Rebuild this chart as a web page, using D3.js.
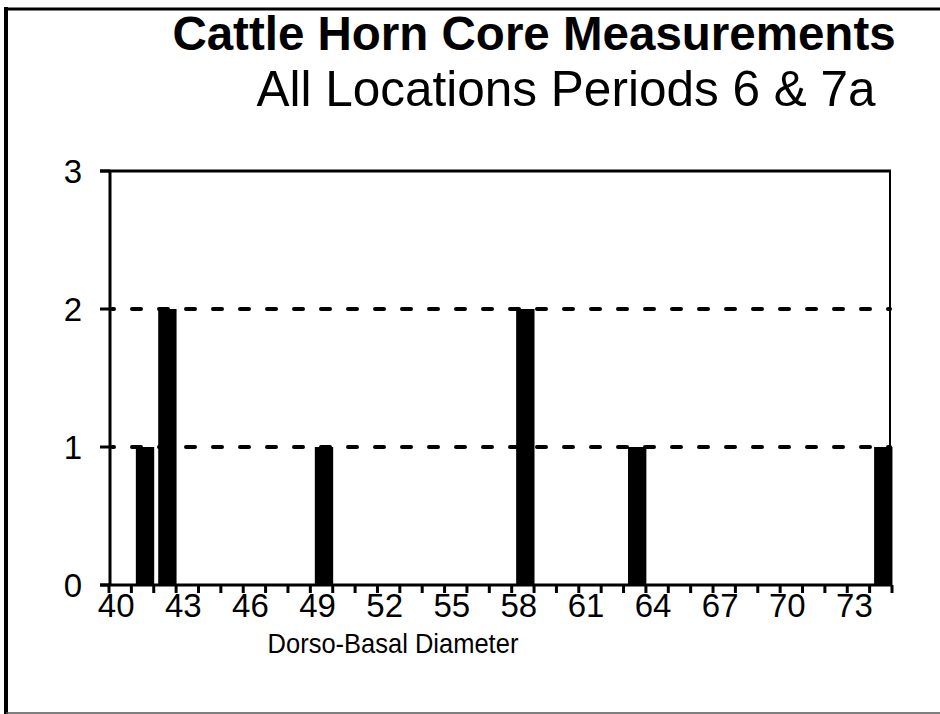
<!DOCTYPE html>
<html>
<head>
<meta charset="utf-8">
<script src="https://cdn.jsdelivr.net/npm/d3@7"></script>
<style>
  body { margin: 0; background: #fff; }
  svg { display: block; font-family: "Liberation Sans", Arial, Helvetica, sans-serif; }
</style>
</head>
<body>
<div id="chart"></div>
<script>
var width = 940,
    height = 714

// diameter classes on the x axis (mm)
var categories = [40, 41, 42, 43, 44, 45, 46, 47, 48, 49, 50, 51, 52, 53, 54, 55, 56, 57,
                  58, 59, 60, 61, 62, 63, 64, 65, 66, 67, 68, 69, 70, 71, 72, 73, 74]
var tickLabels = [40, 43, 46, 49, 52, 55, 58, 61, 64, 67, 70, 73]
// measured horn cores
var diameters = [41, 42, 49, 58, 63, 74]
var counts = [1, 2, 1, 2, 1, 1]
var yTicks = [0, 1, 2, 3]

var svg = d3.select('#chart')
  .append('svg')
  .attr('width', width)
  .attr('height', height)

svg.append('rect').attr('width', width).attr('height', height).attr('fill', '#fff')

// outer frame
svg.append('line').attr('x1', 6).attr('x2', 6).attr('y1', 7).attr('y2', height)
   .attr('stroke', '#000').attr('stroke-width', 4)
svg.append('line').attr('x1', 4).attr('x2', width).attr('y1', 9).attr('y2', 9)
   .attr('stroke', '#000').attr('stroke-width', 3)
svg.append('line').attr('x1', 6).attr('x2', width).attr('y1', 713).attr('y2', 713)
   .attr('stroke', '#555').attr('stroke-width', 1.5)

var x = d3.scaleBand().domain(categories).range([109, 892]).padding(0)
var y = d3.scaleLinear().domain([0, 3]).range([585, 171])
var bw = x.bandwidth()

// dashed grid lines
svg.selectAll('.grid')
  .data([1, 2])
  .enter().append('line')
  .attr('class', 'grid')
  .attr('x1', 112).attr('x2', 890)
  .attr('y1', d => y(d)).attr('y2', d => y(d))
  .attr('stroke', '#000')
  .attr('stroke-width', 4)
  .attr('stroke-linecap', 'round')
  .attr('stroke-dasharray', '9,18')
  .attr('stroke-dashoffset', -20)

// bars
svg.selectAll('.bar')
  .data(diameters)
  .enter().append('rect')
  .attr('class', 'bar')
  .attr('x', d => x(d) + bw * 0.2)
  .attr('width', bw * 0.82)
  .attr('y', (d, i) => y(counts[i]))
  .attr('height', (d, i) => y(0) - y(counts[i]))
  .attr('fill', '#000')

// frame of plot
svg.append('line').attr('x1', 100).attr('x2', 891).attr('y1', y(3)).attr('y2', y(3))
   .attr('stroke', '#000').attr('stroke-width', 3)
svg.append('line').attr('x1', 890).attr('x2', 890).attr('y1', y(3)).attr('y2', y(0))
   .attr('stroke', '#000').attr('stroke-width', 2)
svg.append('line').attr('x1', 110).attr('x2', 110).attr('y1', y(3)).attr('y2', y(0))
   .attr('stroke', '#000').attr('stroke-width', 3)
svg.append('line').attr('x1', 100).attr('x2', 892).attr('y1', y(0)).attr('y2', y(0))
   .attr('stroke', '#000').attr('stroke-width', 3)

// y ticks
svg.selectAll('.ytick')
  .data(yTicks)
  .enter().append('line')
  .attr('x1', 100).attr('x2', 110)
  .attr('y1', d => y(d)).attr('y2', d => y(d))
  .attr('stroke', '#000').attr('stroke-width', 3)

svg.selectAll('.ylab')
  .data(yTicks)
  .enter().append('text')
  .attr('x', 82)
  .attr('y', d => y(d) + 12)
  .attr('text-anchor', 'end')
  .attr('font-size', 33)
  .text(d => d)

// x ticks at class boundaries
var bounds = categories.map(d => x(d)).concat([x(categories[categories.length - 1]) + bw])
svg.selectAll('.xtick')
  .data(bounds)
  .enter().append('line')
  .attr('x1', d => d).attr('x2', d => d)
  .attr('y1', y(0)).attr('y2', y(0) + 8)
  .attr('stroke', '#000').attr('stroke-width', 3)

svg.selectAll('.xlab')
  .data(tickLabels)
  .enter().append('text')
  .attr('x', d => x(d) + bw / 2 - 4)
  .attr('y', 617)
  .attr('text-anchor', 'middle')
  .attr('font-size', 33)
  .text(d => d)

svg.append('text')
  .attr('transform', 'translate(393,653) scale(1,1.1)')
  .attr('text-anchor', 'middle')
  .attr('font-size', 25.5)
  .text('Dorso-Basal Diameter')

// titles
svg.append('text')
  .attr('x', 534).attr('y', 50)
  .attr('text-anchor', 'middle')
  .attr('font-size', 47.5)
  .attr('font-weight', 'bold')
  .text('Cattle Horn Core Measurements')

svg.append('text')
  .attr('x', 566).attr('y', 106)
  .attr('text-anchor', 'middle')
  .attr('font-size', 49.5)
  .text('All Locations Periods 6 & 7a')
</script>
</body>
</html>
